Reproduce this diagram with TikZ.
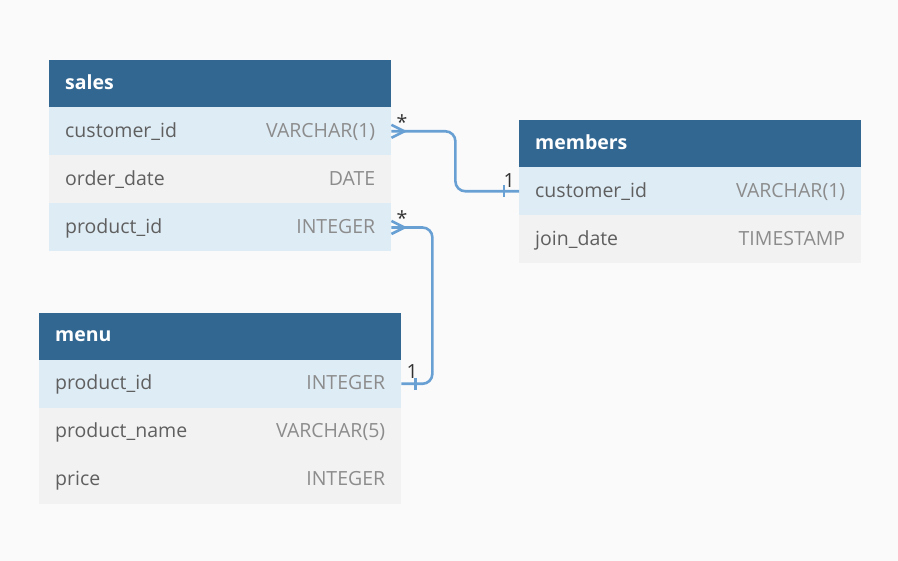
\documentclass[tikz,border=0pt]{standalone}
\usepackage{fontspec}
\setmainfont{Open Sans}
\usepackage{tikz}
\usetikzlibrary{positioning}

\definecolor{hdrblue}{RGB}{50,103,146}
\definecolor{keyblue}{RGB}{222,236,245}
\definecolor{fldgray}{RGB}{242,242,242}
\definecolor{bggray}{RGB}{250,250,250}
\definecolor{namegray}{RGB}{95,95,95}
\definecolor{typegray}{RGB}{140,140,140}
\definecolor{relblue}{RGB}{104,160,212}
\definecolor{cardgray}{RGB}{50,50,50}

\newcommand{\fldtext}[3]{\makebox[#1]{#2\hfill\textcolor{typegray}{#3}}}

\begin{document}
\begin{tikzpicture}[
  x=1pt, y=-1pt,
  hdr/.style={rectangle, fill=hdrblue, text=white, minimum height=47pt, inner xsep=16pt, inner ysep=0pt,
    text height=15pt, text depth=3.5pt, font=\fontsize{19.5}{23}\selectfont\bfseries},
  fld/.style={rectangle, fill=fldgray, text=namegray, minimum height=48pt, inner xsep=16pt, inner ysep=0pt,
    text height=15pt, text depth=3.5pt, font=\fontsize{19.5}{23}\selectfont},
  keyfld/.style={fld, fill=keyblue},
  rel/.style={draw=relblue, line width=2.6pt, rounded corners=10pt},
  card/.style={text=cardgray, inner sep=0pt, font=\fontsize{19.5}{23}\selectfont}
]
\fill[bggray] (0,0) rectangle (898,561);

% sales
\node[hdr, anchor=north west] (sales) at (49,60) {\makebox[310pt][l]{sales}};
\node[keyfld, below=-0.3pt of sales] (sales-cid) {\fldtext{310pt}{customer\_id}{VARCHAR(1)}};
\node[fld, below=-0.3pt of sales-cid] (sales-date) {\fldtext{310pt}{order\_date}{DATE}};
\node[keyfld, below=-0.3pt of sales-date] (sales-pid) {\fldtext{310pt}{product\_id}{INTEGER}};

% members
\node[hdr, anchor=north west] (members) at (519,120) {\makebox[310pt][l]{members}};
\node[keyfld, below=-0.3pt of members] (members-cid) {\fldtext{310pt}{customer\_id}{VARCHAR(1)}};
\node[fld, below=-0.3pt of members-cid] (members-join) {\fldtext{310pt}{join\_date}{TIMESTAMP}};

% menu
\node[hdr, anchor=north west] (menu) at (39,312.5) {\makebox[330pt][l]{menu}};
\node[keyfld, below=-0.3pt of menu] (menu-pid) {\fldtext{330pt}{product\_id}{INTEGER}};
\node[fld, below=-0.3pt of menu-pid] (menu-name) {\fldtext{330pt}{product\_name}{VARCHAR(5)}};
\node[fld, below=-0.3pt of menu-name] (menu-price) {\fldtext{330pt}{price}{INTEGER}};

% relations
\draw[rel] (sales-cid.east) -- ++(64,0) |- (members-cid.west);
\draw[rel] (sales-pid.east) -- ++(41,0) |- (menu-pid.east);

% crow's feet (many)
\draw[rel, rounded corners=0pt] ([yshift=6.5pt]sales-cid.east) -- ([xshift=13pt]sales-cid.east) -- ([yshift=-6.5pt]sales-cid.east);
\draw[rel, rounded corners=0pt] ([yshift=6.5pt]sales-pid.east) -- ([xshift=13pt]sales-pid.east) -- ([yshift=-6.5pt]sales-pid.east);
% bars (one)
\draw[rel] ([xshift=-15pt,yshift=6pt]members-cid.west) -- ([xshift=-15pt,yshift=-6pt]members-cid.west);
\draw[rel] ([xshift=14pt,yshift=6pt]menu-pid.east) -- ([xshift=14pt,yshift=-6pt]menu-pid.east);

% cardinalities
\node[card, anchor=base west] (many-cid) at ([xshift=5pt,yshift=2pt]sales-cid.east) {*};
\node[card, anchor=base west] (many-pid) at ([xshift=5pt,yshift=2pt]sales-pid.east) {*};
\node[card, anchor=base east] (one-cid) at ([xshift=-4pt,yshift=4pt]members-cid.west) {1};
\node[card, anchor=base west] (one-pid) at ([xshift=5pt,yshift=5pt]menu-pid.east) {1};
\end{tikzpicture}
\end{document}
